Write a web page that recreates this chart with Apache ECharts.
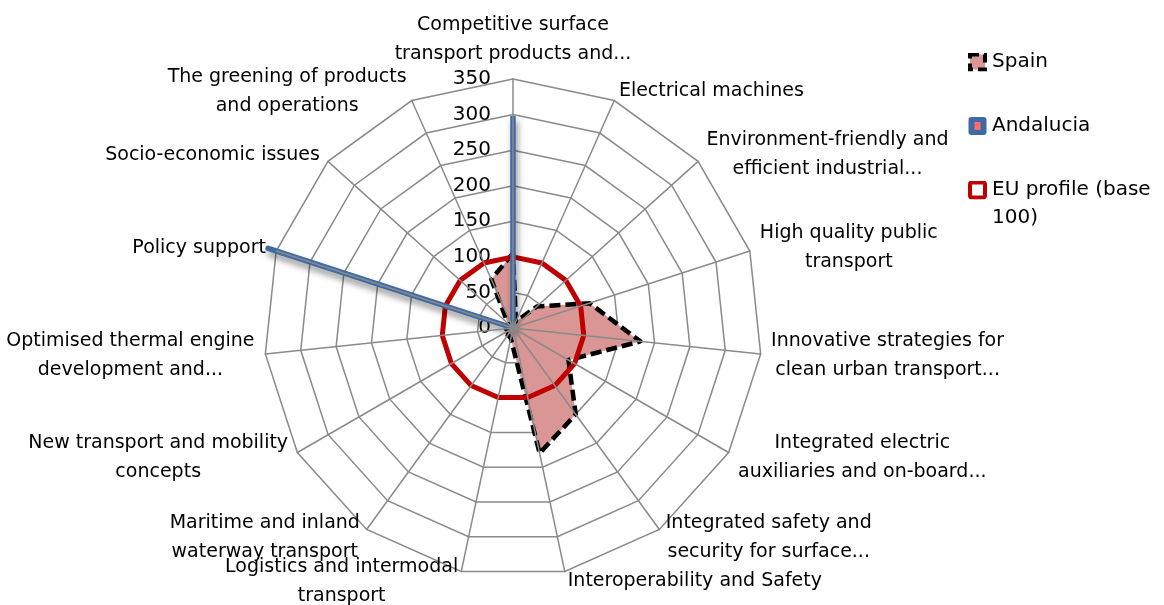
<!DOCTYPE html>
<html><head><meta charset="utf-8">
<script src="https://cdn.jsdelivr.net/npm/echarts@6/dist/echarts.min.js"></script>
<style>html,body{margin:0;padding:0;background:#fff}#c{width:1164px;height:605px}</style>
</head><body><div id="c"></div>
<script>
const categories = [
  "Competitive surface\ntransport products and...",
  "Electrical machines",
  "Environment-friendly and\nefficient industrial...",
  "High quality public\ntransport",
  "Innovative strategies for\nclean urban transport...",
  "Integrated electric\nauxiliaries and on-board...",
  "Integrated safety and\nsecurity for surface...",
  "Interoperability and Safety",
  "Logistics and intermodal\ntransport",
  "Maritime and inland\nwaterway transport",
  "New transport and mobility\nconcepts",
  "Optimised thermal engine\ndevelopment and...",
  "Policy support",
  "Socio-economic issues",
  "The greening of products\nand operations"
];
const spain     = [105, 10, 45, 113, 180, 90, 150, 180, 15, 12, 15, 8, 5, 10, 75];
const andalucia = [298, 0, 0, 0, 0, 0, 0, 0, 0, 0, 0, 0, 362, 0, 0];
const euProfile = [100, 100, 100, 100, 100, 100, 100, 100, 100, 100, 100, 100, 100, 100, 100];
const seriesNames = ["Spain", "Andalucia", "EU profile (base 100)"];
const axisMax = 350;
const tickStep = 50;

const FONT = '"DejaVu Sans", sans-serif';
// Excel draws clockwise; ECharts radar goes counter-clockwise -> reorder
const order = categories.map((_, i) => i === 0 ? 0 : categories.length - i);
const re = arr => order.map(i => arr[i]);

const ctx = document.createElement('canvas').getContext('2d');
ctx.font = '19px "DejaVu Sans"';
const rich = {};
categories.forEach((c, i) => {
  const w = Math.max(...c.split('\n').map(l => ctx.measureText(l).width));
  rich['w' + i] = {width: Math.ceil(w) + 1, align: 'center', fontSize: 19, lineHeight: 29, fontFamily: FONT, color: '#000'};
});

const indicators = re(categories).map((n, k) => {
  const o = {name: n, min: 0, max: axisMax};
  if (k === 0) o.axisLabel = {show: true};
  return o;
});

function svgIcon(inner) {
  const s = "<svg xmlns='http://www.w3.org/2000/svg' width='19' height='19' viewBox='0 0 19 19'>" + inner + "</svg>";
  return 'image://data:image/svg+xml;charset=utf-8,' + encodeURIComponent(s);
}

const chart = echarts.init(document.getElementById('c'), null, {renderer: 'canvas'});
chart.setOption({
  animation: false,
  backgroundColor: '#fff',
  legend: {
    orient: 'vertical', left: 968, top: 50, padding: 0, itemWidth: 19, itemHeight: 19, itemGap: 40,
    selectedMode: false,
    textStyle: {fontSize: 20, fontFamily: FONT, color: '#000', lineHeight: 24},
    formatter: n => n === 'EU profile (base 100)' ? 'EU profile (base' : n,
    data: [
      {name: seriesNames[0], icon: svgIcon("<rect x='2' y='2' width='15' height='15' fill='#D99694' stroke='#000' stroke-width='4' stroke-dasharray='9,5'/>")},
      {name: seriesNames[1], icon: svgIcon("<rect x='0.5' y='0.5' width='18' height='18' rx='3' fill='#3F6BA5'/><rect x='6.5' y='5.5' width='6' height='8' fill='#FF6B6B'/>")},
      {name: seriesNames[2], icon: svgIcon("<rect x='2' y='2' width='15' height='15' rx='2' fill='#fff' stroke='#C00000' stroke-width='4'/>")}
    ]
  },
  graphic: [{type: 'text', left: 992, top: 208, style: {text: '100)', font: '20px "DejaVu Sans"', fill: '#000'}}],
  radar: [{
    center: [513, 328], radius: 249, startAngle: 90, shape: 'polygon', splitNumber: axisMax / tickStep,
    indicator: indicators,
    axisName: {
      show: true, color: '#000', fontSize: 19, lineHeight: 29, fontFamily: FONT, rich: rich,
      formatter: (v) => {
        const i = categories.indexOf(v);
        return v.split('\n').map(l => '{w' + i + '|' + l + '}').join('\n');
      }
    },
    axisNameGap: 10,
    axisLine: {show: false}, axisTick: {show: false},
    axisLabel: {show: false, fontSize: 20, fontFamily: FONT, color: '#000', margin: 22},
    splitLine: {show: true, lineStyle: {color: '#8a8a8a', width: 1.5}},
    splitArea: {show: false},
    z: 0
  }, {
    center: [513, 328], radius: 249, startAngle: 90, shape: 'polygon', splitNumber: axisMax / tickStep,
    indicator: re(categories).map(n => ({name: n, min: 0, max: axisMax})),
    axisName: {show: false},
    axisLine: {show: true, lineStyle: {color: '#8a8a8a', width: 1.5}},
    axisTick: {show: false}, axisLabel: {show: false},
    splitLine: {show: false}, splitArea: {show: false},
    z: 5
  }],
  series: [{
    // Spain: filled area
    type: 'radar', name: seriesNames[0], radarIndex: 0, symbol: 'none', z: 2,
    itemStyle: {color: '#D99694'},
    lineStyle: {width: 0, opacity: 0},
    areaStyle: {color: '#D99694', opacity: 1},
    data: [{name: seriesNames[0], value: re(spain)}]
  }, {
    // Spain: dashed outline on top of its area
    type: 'radar', name: seriesNames[0], radarIndex: 0, symbol: 'none', z: 2.5,
    itemStyle: {color: '#D99694'},
    lineStyle: {color: '#000', width: 4.5, type: [11, 5]},
    data: [{name: seriesNames[0], value: re(spain)}]
  }, {
    type: 'radar', name: seriesNames[2], radarIndex: 0, symbol: 'none', z: 3,
    itemStyle: {color: '#C00000'},
    lineStyle: {color: '#C00000', width: 5},
    data: [{name: seriesNames[2], value: re(euProfile)}]
  }, {
    type: 'radar', name: seriesNames[1], radarIndex: 0, symbol: 'none', z: 4,
    itemStyle: {color: '#3F6BA5'},
    lineStyle: {color: '#3F6BA5', width: 5.5, shadowColor: 'rgba(0,0,0,0.45)', shadowBlur: 6, shadowOffsetX: 2, shadowOffsetY: 5},
    data: [{name: seriesNames[1], value: re(andalucia)}]
  }]
});
</script></body></html>
